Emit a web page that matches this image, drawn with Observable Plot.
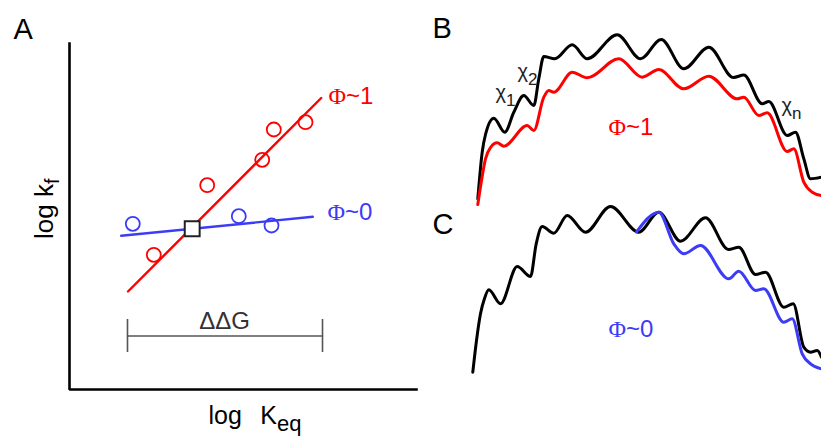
<!DOCTYPE html>
<html><head><meta charset="utf-8">
<script src="https://cdn.jsdelivr.net/npm/d3@7"></script>
<script src="https://cdn.jsdelivr.net/npm/@observablehq/plot@0.6"></script>
<style>
html,body{margin:0;padding:0;background:#fff;}
#chart svg{display:block;}
</style></head>
<body><div id="chart"></div>
<script>
// ---- Panel A (schematic positions, in picture units) ----
const axisA = [[69,43],[69,389],[416,389]];
const phi1Points = [[153.3,254.3],[206.7,184.7],[261.7,159.3],[273.3,129],[305,121.7]];
const phi0Points = [[132.3,223.3],[238.3,215.7],[271,225]];
const phi1Fit = [[127.5,291],[320.7,97.5]];
const phi0Fit = [[120.7,235.3],[312.3,216.3]];
const wildType = [[191.7,228.3]];
const ddgBar = [[127,335.5],[322,335.5]];
const ddgTicks = [{x:127,y1:319,y2:352},{x:322,y1:319,y2:352}];

// ---- Panels B and C: energy landscapes along the folding coordinate ----
const bBlack = [[477.3,198.3],[481.7,151.7],[485,134],[493.3,117.7],[504.3,131.7],[513.3,111.7],[523.3,95],[533.3,105],[538.3,78.3],[543.3,56],[554.3,58.3],[571.7,44.3],[586.7,58.3],[616.7,34.3],[640,58.3],[660.7,39],[683.3,68.3],[708.3,46.7],[733,77],[743.3,74.5],[761.7,103.3],[768.3,101],[786.7,135],[795,131.7],[803.3,158.3],[810,178.3],[821,176.7]];
const bRed = [[477.3,204],[481,180],[485,158.3],[490,147],[496.7,142.3],[503.3,145.7],[526.7,125],[533.3,130],[543.3,96.7],[548.3,90],[553.3,91.7],[571.7,71.7],[586.7,77.3],[618.3,58.3],[641.7,76.7],[658.3,69],[683.3,88.3],[708.3,75.7],[736.7,98.3],[743.3,96.7],[758.3,115],[766.7,112.3],[786.7,151],[793.3,148.3],[803.3,181.7],[811.7,191.7],[821,195]];
const cBlack = [[472.3,371.7],[476,340],[480,313.3],[484,298],[488.3,289.3],[500,303.3],[516.7,266],[530,276],[535.7,243.3],[541.7,226],[553.3,232.7],[566.7,215],[585,231.7],[610,206],[638.3,231.7],[658.3,211.7],[680,240.7],[705,217.3],[728,249],[738.3,246.7],[755,274],[765,271.7],[783.3,306.7],[792.7,303.3],[803.3,346.7],[810,351.7],[816.7,350],[821,356.7]];
const cBlue = [[636,231.5],[658.3,211.7],[673.3,243.3],[683.3,253.3],[700,245],[728.3,278.3],[738.3,270.7],[755,290],[763.3,288.3],[783.3,321.7],[791.7,318.3],[801.7,353.3],[810,363.3],[821,368.3]];

// ---- Text labels ----
const panelLetters = [{label:"A",x:13,y:38},{label:"B",x:432,y:37},{label:"C",x:432,y:233}];
const redLabels = [{label:"Φ~1",x:328,y:103},{label:"Φ~1",x:608,y:134}];
const blueLabels = [{label:"Φ~0",x:327,y:219},{label:"Φ~0",x:608,y:336}];
const chiLabels = [{label:"χ_1",x:495,y:98},{label:"χ_2",x:517,y:77},{label:"χ_n",x:781,y:111}];
const yTitle = [{label:"log k_f",x:52,y:238.5}];
const xTitle = [{label:"log K_eq",x:208,y:423}];
const ddgLabel = [{label:"ΔΔG",x:224,y:328}];

const RED = "#ff0000", BLUE = "#3c3cf6";
const FONT = "'Liberation Sans', Arial, sans-serif";
const X = d => d[0], Y = d => d[1];

const plot = Plot.plot({
  width: 821, height: 440,
  marginTop: 0, marginRight: 0, marginBottom: 0, marginLeft: 0,
  x: {domain: [0, 821], axis: null},
  y: {domain: [440, 0], axis: null},
  style: `font-family: ${FONT}; background: white;`,
  marks: [
    Plot.line(axisA, {x: X, y: Y, stroke: "#000", strokeWidth: 2.6, strokeLinejoin: "miter", strokeLinecap: "square"}),
    Plot.line(ddgBar, {x: X, y: Y, stroke: "#555", strokeWidth: 1.6}),
    Plot.ruleX(ddgTicks, {x: "x", y1: "y1", y2: "y2", stroke: "#555", strokeWidth: 1.6}),
    Plot.line(phi0Fit, {x: X, y: Y, stroke: BLUE, strokeWidth: 2.4}),
    Plot.line(phi1Fit, {x: X, y: Y, stroke: RED, strokeWidth: 2.4}),
    Plot.dot(phi1Points, {x: X, y: Y, r: 7, stroke: RED, strokeWidth: 1.8, fill: "none"}),
    Plot.dot(phi0Points, {x: X, y: Y, r: 7, stroke: BLUE, strokeWidth: 1.8, fill: "none"}),
    Plot.dot(wildType, {x: X, y: Y, symbol: "square", r: 8.4, stroke: "#222", strokeWidth: 2, fill: "white"}),
    Plot.line(bBlack, {x: X, y: Y, stroke: "#000", strokeWidth: 3, curve: "monotone-x"}),
    Plot.line(bRed, {x: X, y: Y, stroke: RED, strokeWidth: 3, curve: "monotone-x"}),
    Plot.line(cBlack, {x: X, y: Y, stroke: "#000", strokeWidth: 3, curve: "monotone-x"}),
    Plot.line(cBlue, {x: X, y: Y, stroke: BLUE, strokeWidth: 3, curve: "monotone-x"}),
    Plot.text(panelLetters, {x: "x", y: "y", text: "label", textAnchor: "start", lineAnchor: "bottom", fontSize: 29, fill: "#000", fontFamily: FONT}),
    Plot.text(redLabels, {x: "x", y: "y", text: "label", textAnchor: "start", lineAnchor: "bottom", fontSize: 24, fill: RED, fontFamily: FONT}),
    Plot.text(blueLabels, {x: "x", y: "y", text: "label", textAnchor: "start", lineAnchor: "bottom", fontSize: 24, fill: BLUE, fontFamily: FONT}),
    Plot.text(chiLabels, {x: "x", y: "y", text: "label", textAnchor: "start", lineAnchor: "bottom", fontSize: 20, fill: "#222", fontFamily: FONT}),
    Plot.text(yTitle, {x: "x", y: "y", text: "label", textAnchor: "start", lineAnchor: "bottom", rotate: -90, fontSize: 26, fill: "#000", fontFamily: FONT}),
    Plot.text(xTitle, {x: "x", y: "y", text: "label", textAnchor: "start", lineAnchor: "bottom", fontSize: 25, fill: "#000", fontFamily: FONT}),
    Plot.text(ddgLabel, {x: "x", y: "y", text: "label", textAnchor: "middle", lineAnchor: "bottom", fontSize: 24, fill: "#333", fontFamily: FONT})
  ]
});

// Typesetting of subscripts ("a_b") and of a serif Φ, inside the real text elements
const subStyle = {
  "log k_f": {size: "77%", dy: "0.31em"},
  "log K_eq": {size: "88%", dy: "0.34em", gap: "0.46em"}
};
const chiSub = {size: "85%", dy: "0.45em"};
d3.select(plot).selectAll("text").each(function () {
  const t = this.textContent;
  const sel = d3.select(this);
  const m = t.match(/^(.*)_(\w+)$/);
  if (m) {
    const st = subStyle[t] || chiSub;
    sel.text(null);
    if (st.gap) {
      const i = m[1].lastIndexOf(" ");
      sel.append("tspan").text(m[1].slice(0, i + 1));
      sel.append("tspan").attr("dx", st.gap).text(m[1].slice(i + 1));
    } else {
      sel.append("tspan").text(m[1]);
    }
    sel.append("tspan").attr("dy", st.dy).style("font-size", st.size).text(m[2]);
  } else if (t.startsWith("Φ")) {
    sel.text(null);
    sel.append("tspan").style("font-family", "'Liberation Serif', 'Times New Roman', serif").text("Φ");
    sel.append("tspan").text(t.slice(1));
  }
});

document.getElementById("chart").appendChild(plot);
</script>
</body></html>
